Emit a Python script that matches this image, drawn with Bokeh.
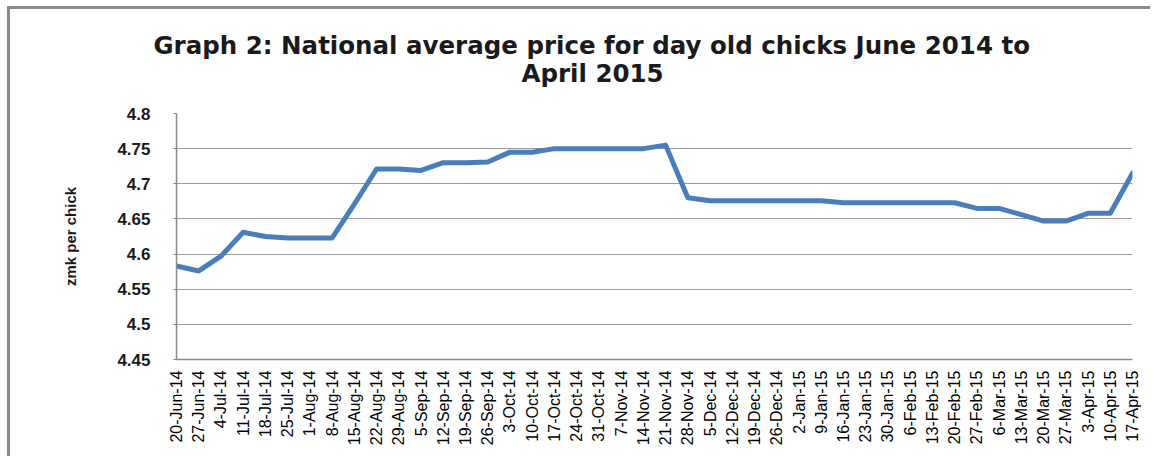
from bokeh.plotting import figure
from bokeh.models import Range1d, FixedTicker, NumeralTickFormatter, Title
from bokeh.embed import file_html
from bokeh.resources import INLINE

# ---- data ----
dates = ["20-Jun-14", "27-Jun-14", "4-Jul-14", "11-Jul-14", "18-Jul-14", "25-Jul-14",
         "1-Aug-14", "8-Aug-14", "15-Aug-14", "22-Aug-14", "29-Aug-14", "5-Sep-14",
         "12-Sep-14", "19-Sep-14", "26-Sep-14", "3-Oct-14", "10-Oct-14", "17-Oct-14",
         "24-Oct-14", "31-Oct-14", "7-Nov-14", "14-Nov-14", "21-Nov-14", "28-Nov-14",
         "5-Dec-14", "12-Dec-14", "19-Dec-14", "26-Dec-14", "2-Jan-15", "9-Jan-15",
         "16-Jan-15", "23-Jan-15", "30-Jan-15", "6-Feb-15", "13-Feb-15", "20-Feb-15",
         "27-Feb-15", "6-Mar-15", "13-Mar-15", "20-Mar-15", "27-Mar-15", "3-Apr-15",
         "10-Apr-15", "17-Apr-15"]
prices = [4.583, 4.576, 4.597, 4.631, 4.625, 4.623,
          4.623, 4.623, 4.671, 4.721, 4.721, 4.719,
          4.730, 4.730, 4.731, 4.745, 4.745, 4.750,
          4.750, 4.750, 4.750, 4.750, 4.755, 4.680,
          4.676, 4.676, 4.676, 4.676, 4.676, 4.676,
          4.673, 4.673, 4.673, 4.673, 4.673, 4.673,
          4.665, 4.665, 4.656, 4.647, 4.647, 4.658,
          4.658, 4.715]
y_ticks = [4.45, 4.5, 4.55, 4.6, 4.65, 4.7, 4.75, 4.8]
title_line1 = "Graph 2: National average price for day old chicks June 2014 to"
title_line2 = "April 2015"
y_label = "zmk per chick"

x_idx = list(range(len(dates)))

p = figure(width=1143, height=450, output_backend="svg", toolbar_location=None,
           x_range=Range1d(x_idx[0], x_idx[-1]),
           y_range=Range1d(y_ticks[0], y_ticks[-1]),
           min_border_left=166, min_border_right=21, min_border_top=104,
           min_border_bottom=100)
p.styles = {"border-top": "3px solid #8a8a8a", "border-left": "3px solid #8a8a8a",
            "border-right": "none", "border-bottom": "none",
            "margin-left": "7px", "margin-top": "6px"}
p.outline_line_color = None
p.background_fill_color = "white"
p.border_fill_color = "white"

t2 = Title(text=title_line2, align="left", text_font="DejaVu Sans",
           text_font_size="24.5px", text_font_style="bold", text_color="#1a1a1a",
           offset=345, standoff=51)
t1 = Title(text=title_line1, align="left", text_font="DejaVu Sans",
           text_font_size="24.5px", text_font_style="bold", text_color="#1a1a1a",
           offset=-23, standoff=-56)
p.add_layout(t2, "above")
p.add_layout(t1, "above")

p.line(x_idx, prices, line_color="#4a7ebb", line_width=5, line_join="round",
       line_cap="round")

# x axis
p.xaxis.ticker = FixedTicker(ticks=x_idx)
p.xaxis.major_label_overrides = {i: d for i, d in zip(x_idx, dates)}
p.xaxis.major_label_orientation = 1.5707963
p.xaxis.major_label_text_font = "Liberation Sans"
p.xaxis.major_label_text_font_size = "16px"
p.xaxis.major_label_text_color = "black"
p.xaxis.major_label_standoff = 11
p.xaxis.major_tick_out = 0
p.xaxis.major_tick_in = 0
p.xaxis.minor_tick_line_color = None
p.xaxis.axis_line_color = "#8a8a8a"
p.xaxis.axis_line_width = 1.5

# y axis
p.yaxis.ticker = FixedTicker(ticks=y_ticks)
p.yaxis.formatter = NumeralTickFormatter(format="0.[00]")
p.yaxis.major_label_text_font = "Liberation Sans"
p.yaxis.major_label_text_font_size = "17px"
p.yaxis.major_label_text_font_style = "bold"
p.yaxis.major_label_text_color = "#1a1a1a"
p.yaxis.major_label_standoff = 23
p.yaxis.major_tick_out = 3
p.yaxis.major_tick_in = 0
p.yaxis.major_tick_line_color = "#8a8a8a"
p.yaxis.minor_tick_line_color = None
p.yaxis.axis_line_color = "#8a8a8a"
p.yaxis.axis_line_width = 1.5
p.yaxis.axis_label = y_label
p.yaxis.axis_label_text_font = "Liberation Sans"
p.yaxis.axis_label_text_font_size = "15px"
p.yaxis.axis_label_text_font_style = "bold"
p.yaxis.axis_label_text_color = "#1a1a1a"
p.yaxis.axis_label_standoff = 35

p.xgrid.grid_line_color = None
p.ygrid.grid_line_color = "#9a9a9a"
p.ygrid.grid_line_width = 1.2

open("out.html", "w").write(file_html(p, INLINE))
